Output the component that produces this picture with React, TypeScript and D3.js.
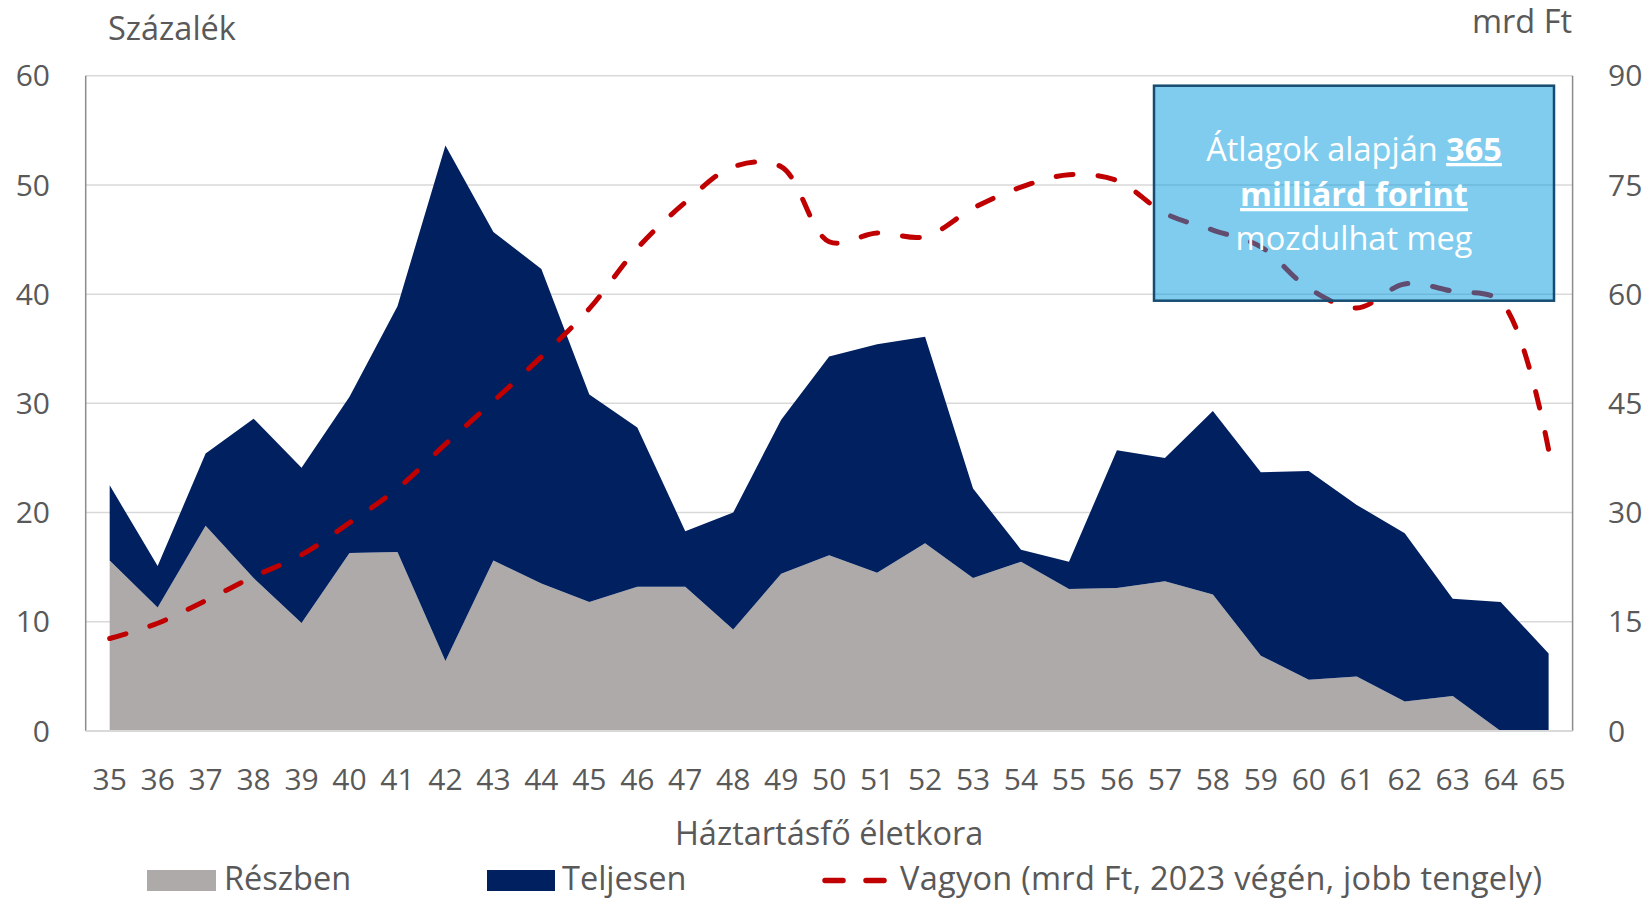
import React, { useRef, useEffect } from "react";
import * as d3 from "d3";

// Age of household head (categories)
const ages = [35, 36, 37, 38, 39, 40, 41, 42, 43, 44, 45, 46, 47, 48, 49, 50, 51, 52, 53, 54, 55, 56, 57, 58, 59, 60, 61, 62, 63, 64, 65];

// Részben (percent)
const partly = [15.6, 11.3, 18.8, 14.0, 9.9, 16.3, 16.4, 6.4, 15.6, 13.5, 11.8, 13.2, 13.2, 9.3, 14.4, 16.1, 14.5, 17.2, 14.0, 15.5, 13.0, 13.1, 13.7, 12.5, 6.9, 4.7, 5.0, 2.7, 3.2, 0, 0];

// Teljesen (percent, stacked on top of Részben)
const fully = [6.9, 3.8, 6.6, 14.6, 14.2, 14.3, 22.5, 47.2, 30.1, 28.8, 19.0, 14.6, 5.1, 10.7, 14.1, 18.2, 20.9, 18.9, 8.2, 1.1, 2.5, 12.6, 11.3, 16.8, 16.8, 19.1, 15.7, 15.4, 8.9, 11.8, 7.1];

// Vagyon (mrd Ft, right axis)
const wealth = [12.7, 14.8, 17.9, 21.2, 24.2, 28.6, 33.3, 39.4, 45.3, 51.4, 58.0, 66.3, 72.6, 77.5, 77.5, 67.2, 68.4, 67.9, 71.8, 74.7, 76.4, 75.6, 71.1, 68.8, 66.5, 60.8, 58.1, 61.4, 60.4, 59.0, 38.6];

const leftTicks = [0, 10, 20, 30, 40, 50, 60];
const rightTicks = [0, 15, 30, 45, 60, 75, 90];

const W = 1648;
const H = 899;
const FONT = "'Open Sans', 'DejaVu Sans', sans-serif";
const TXT = "#595959";
const NUM_SIZE = 30;
const TEXT_SIZE = 32.5;

export default function App() {
    const ref = useRef<SVGSVGElement>(null);

    useEffect(() => {
        if (!ref.current) return;
        const svg = d3.select(ref.current);
        svg.selectAll("*").remove();

        const m = { left: 85.7, right: 1572.6, top: 75.7, bottom: 731 };

        const x = d3.scalePoint<number>()
            .domain(ages)
            .range([m.left, m.right])
            .padding(0.5);
        const y = d3.scaleLinear().domain([0, 60]).range([m.bottom, m.top]);
        const y2 = d3.scaleLinear().domain([0, 90]).range([m.bottom, m.top]);

        // gridlines
        svg.append("g")
            .selectAll("line")
            .data(leftTicks)
            .enter()
            .append("line")
            .attr("x1", m.left).attr("x2", m.right)
            .attr("y1", d => y(d)).attr("y2", d => y(d))
            .attr("stroke", "#D9D9D9")
            .attr("stroke-width", 1.5);

        // stacked areas
        const rows = ages.map((a, i) => ({ age: a, partly: partly[i], fully: fully[i] }));
        const stack = d3.stack<any>().keys(["partly", "fully"]);
        const series = stack(rows);
        const colors = ["#AEAAAA", "#00205F"];
        const area = d3.area<any>()
            .x(d => x(d.data.age) as number)
            .y0(d => y(d[0]))
            .y1(d => y(d[1]));
        svg.append("g")
            .selectAll("path")
            .data(series)
            .enter()
            .append("path")
            .attr("fill", (_, i) => colors[i])
            .attr("d", area as any);

        // axis lines
        svg.append("line")
            .attr("x1", m.left).attr("x2", m.left)
            .attr("y1", m.top).attr("y2", m.bottom)
            .attr("stroke", "#8C8C8C").attr("stroke-width", 1.5);
        svg.append("line")
            .attr("x1", m.right).attr("x2", m.right)
            .attr("y1", m.top).attr("y2", m.bottom)
            .attr("stroke", "#8C8C8C").attr("stroke-width", 1.5);
        svg.append("line")
            .attr("x1", m.left).attr("x2", m.right)
            .attr("y1", m.bottom).attr("y2", m.bottom)
            .attr("stroke", "#D9D9D9").attr("stroke-width", 2);

        // wealth line (right axis)
        const line = d3.line<number>()
            .x((_, i) => x(ages[i]) as number)
            .y(d => y2(d))
            .curve(d3.curveCatmullRom.alpha(0.5));
        svg.append("path")
            .datum(wealth)
            .attr("fill", "none")
            .attr("stroke", "#C00000")
            .attr("stroke-width", 5)
            .attr("stroke-linecap", "round")
            .attr("stroke-dasharray", "17 25")
            .attr("d", line);

        // tick labels
        const t = svg.append("g")
            .attr("font-family", FONT)
            .attr("font-size", NUM_SIZE)
            .attr("fill", TXT);
        t.selectAll(".yl")
            .data(leftTicks)
            .enter()
            .append("text")
            .attr("x", 50)
            .attr("y", d => y(d) + 10.7)
            .attr("text-anchor", "end")
            .text(d => d);
        t.selectAll(".yr")
            .data(rightTicks)
            .enter()
            .append("text")
            .attr("x", 1608)
            .attr("y", d => y2(d) + 10.7)
            .attr("text-anchor", "start")
            .text(d => d);
        t.selectAll(".xl")
            .data(ages)
            .enter()
            .append("text")
            .attr("x", d => x(d) as number)
            .attr("y", 790)
            .attr("text-anchor", "middle")
            .text(d => d);

        // axis titles
        const tt = svg.append("g")
            .attr("font-family", FONT)
            .attr("font-size", TEXT_SIZE)
            .attr("fill", TXT);
        tt.append("text").attr("x", 108).attr("y", 40).text("Százalék");
        tt.append("text").attr("x", 1572).attr("y", 33).attr("text-anchor", "end").text("mrd Ft");
        tt.append("text").attr("x", (m.left + m.right) / 2).attr("y", 845)
            .attr("text-anchor", "middle").text("Háztartásfő életkora");

        // legend
        const lg = svg.append("g").attr("font-family", FONT).attr("font-size", TEXT_SIZE).attr("fill", TXT);
        lg.append("rect").attr("x", 147).attr("y", 870).attr("width", 69).attr("height", 21).attr("fill", colors[0]);
        lg.append("text").attr("x", 224).attr("y", 890).text("Részben");
        lg.append("rect").attr("x", 487).attr("y", 870).attr("width", 68).attr("height", 21).attr("fill", colors[1]);
        lg.append("text").attr("x", 562).attr("y", 890).text("Teljesen");
        lg.append("line")
            .attr("x1", 825).attr("x2", 886)
            .attr("y1", 880.5).attr("y2", 880.5)
            .attr("stroke", "#C00000").attr("stroke-width", 5.5)
            .attr("stroke-linecap", "round")
            .attr("stroke-dasharray", "18 23");
        lg.append("text").attr("x", 900).attr("y", 890)
            .attr("textLength", 642).attr("lengthAdjust", "spacing")
            .text("Vagyon (mrd Ft, 2023 végén, jobb tengely)");

        // annotation box
        const bx = { x0: 1154, y0: 85.7, x1: 1554, y1: 300.7 };
        svg.append("rect")
            .attr("x", bx.x0).attr("y", bx.y0)
            .attr("width", bx.x1 - bx.x0).attr("height", bx.y1 - bx.y0)
            .attr("fill", "rgb(0,153,221)").attr("fill-opacity", 0.5)
            .attr("stroke", "#174C70").attr("stroke-width", 2.5);
        const cx = (bx.x0 + bx.x1) / 2;
        const bt = svg.append("g")
            .attr("font-family", FONT).attr("font-size", TEXT_SIZE)
            .attr("fill", "#FFFFFF").attr("text-anchor", "middle");
        const l1 = bt.append("text").attr("x", cx).attr("y", 161);
        l1.append("tspan").text("Átlagok alapján ");
        l1.append("tspan").attr("font-weight", "bold").attr("text-decoration", "underline").text("365");
        bt.append("text").attr("x", cx).attr("y", 206)
            .attr("font-weight", "bold").attr("text-decoration", "underline")
            .text("milliárd forint");
        bt.append("text").attr("x", cx).attr("y", 250).text("mozdulhat meg");
    }, []);

    return (
        <>
            <style>{`body{margin:0;overflow:hidden}`}</style>
            <svg ref={ref} width={W} height={H} style={{ display: "block", background: "#fff" }} />
        </>
    );
}
